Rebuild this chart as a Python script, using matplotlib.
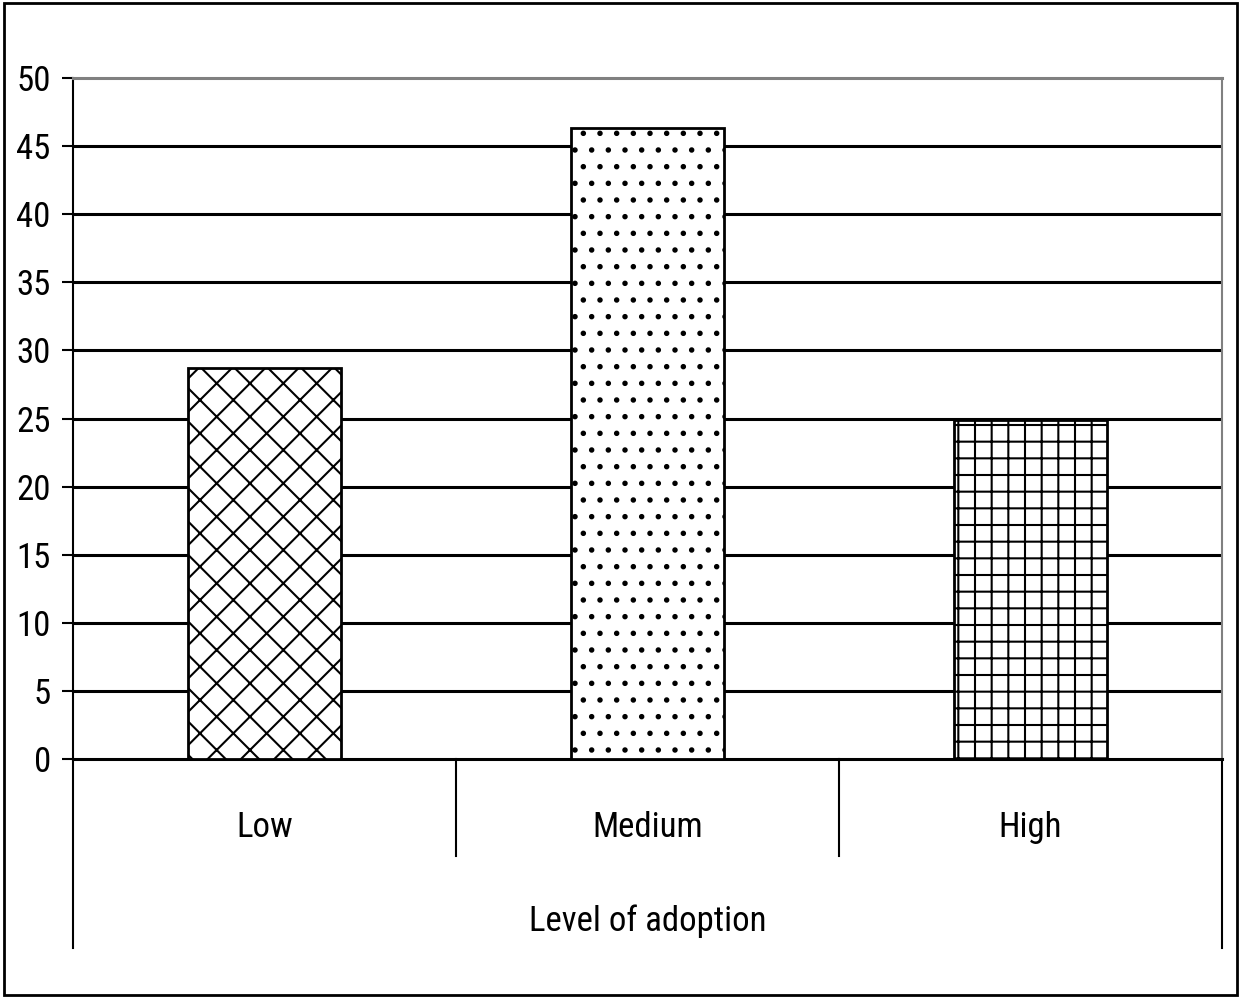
import numpy as np
import matplotlib.pyplot as plt
from matplotlib.patches import Rectangle
from matplotlib import font_manager

categories = ["Low", "Medium", "High"]
values = [28.7, 46.3, 24.9]
hatches = ["x", ".", "+"]
yticks = [0, 5, 10, 15, 20, 25, 30, 35, 40, 45, 50]
xlabel = "Level of adoption"

# narrow font if one is installed
names = {f.name for f in font_manager.fontManager.ttflist}
font = "Liberation Sans"
for n in ["Liberation Sans Narrow", "Roboto Condensed", "Open Sans Condensed",
          "Noto Sans Condensed", "DejaVu Sans Condensed"]:
    if n in names:
        font = n
        break
plt.rcParams["font.family"] = [font, "DejaVu Sans"]
plt.rcParams["hatch.linewidth"] = 1.5
fs = 25 if font != "Liberation Sans" else 23

fig = plt.figure(figsize=(12.39, 9.98), dpi=100)
ax = fig.add_axes([0.0589, 0.2395, 0.9275, 0.6823])

x = np.arange(len(categories))
for i in range(len(categories)):
    ax.bar(x[i], values[i], width=0.4, color="white", edgecolor="black",
           hatch=hatches[i], linewidth=2, zorder=3)

ax.set_xlim(-0.5, 2.5)
ax.set_ylim(0, 50)
ax.set_yticks(yticks)
ax.set_yticklabels([str(t) for t in yticks], fontsize=fs)
ax.tick_params(axis="y", direction="out", length=8, width=1.5, pad=8)
ax.set_xticks([])

for t in yticks[1:-1]:
    ax.axhline(t, color="black", linewidth=2.2, zorder=1)

ax.spines["left"].set_linewidth(1.5)
ax.spines["bottom"].set_linewidth(2.2)
ax.spines["top"].set_color("gray")
ax.spines["top"].set_linewidth(2.2)
ax.spines["right"].set_color("gray")
ax.spines["right"].set_linewidth(1.5)

trans = ax.get_xaxis_transform()
for b in [-0.5, 2.5]:
    ax.plot([b, b], [0, -0.278], color="black", linewidth=1.5, transform=trans, clip_on=False)
for b in [0.5, 1.5]:
    ax.plot([b, b], [0, -0.142], color="black", linewidth=1.5, transform=trans, clip_on=False)

for i, c in enumerate(categories):
    ax.text(x[i], -0.101, c, transform=trans, ha="center", va="center", fontsize=fs)
ax.text(1, -0.238, xlabel, transform=trans, ha="center", va="center", fontsize=fs)

fig.patches.append(Rectangle((0.003, 0.003), 0.995, 0.994, transform=fig.transFigure,
                             fill=False, edgecolor="black", linewidth=2))

fig.savefig("out.png", dpi=100)
